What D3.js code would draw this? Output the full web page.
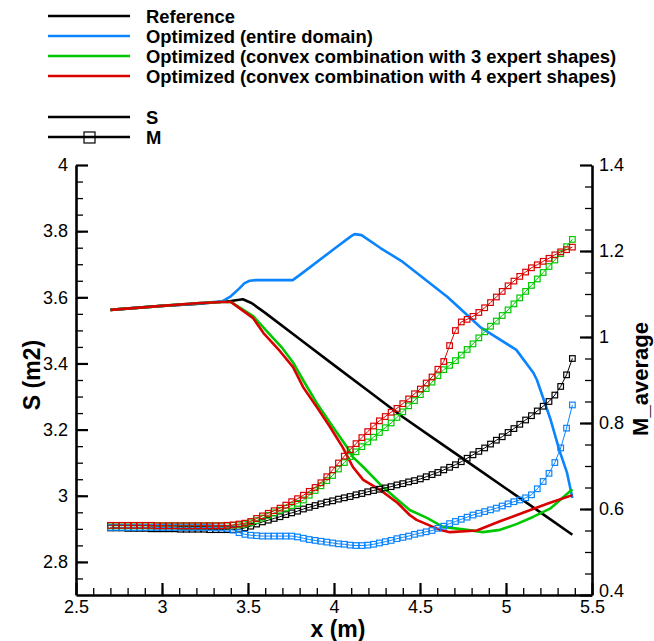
<!DOCTYPE html>
<html><head><meta charset="utf-8">
<script src="https://cdn.jsdelivr.net/npm/d3@7"></script>
<style>
html,body{margin:0;padding:0;background:#fff;}
svg{display:block;font-family:"Liberation Sans",Arial,Helvetica,sans-serif;}
</style></head>
<body><svg id="c" width="654" height="641"></svg>
<script>
// ---------- data ----------
const seriesNames = ["Reference","Optimized (entire domain)","Optimized (convex combination with 3 expert shapes)","Optimized (convex combination with 4 expert shapes)"];
const seriesColors = ["#000000","#0a84ff","#00c800","#d90000"];

// S (left axis) curves
const refSx = [2.70,3.00,3.20,3.40,3.47,3.52,3.60,3.80,4.00,4.20,4.40,4.60,4.80,5.00,5.20,5.386];
const refS  = [3.562,3.574,3.580,3.589,3.594,3.583,3.553,3.474,3.395,3.317,3.238,3.166,3.094,3.022,2.950,2.882];
const entSx = [2.70,3.00,3.20,3.35,3.40,3.45,3.48,3.51,3.55,3.76,3.80,4.00,4.10,4.12,4.16,4.27,4.40,4.66,4.85,5.06,5.16,5.18,5.26,5.31,5.355,5.386];
const entS  = [3.562,3.574,3.581,3.588,3.603,3.627,3.643,3.650,3.652,3.652,3.667,3.746,3.785,3.791,3.788,3.749,3.707,3.601,3.510,3.441,3.371,3.350,3.229,3.138,3.069,2.993];
const c3Sx  = [2.70,3.00,3.22,3.35,3.40,3.48,3.53,3.61,3.70,3.762,3.82,3.90,3.994,4.076,4.11,4.17,4.267,4.37,4.44,4.54,4.634,4.773,4.866,4.965,5.064,5.157,5.256,5.386];
const c3S   = [3.562,3.574,3.583,3.586,3.586,3.560,3.543,3.497,3.446,3.403,3.350,3.280,3.208,3.147,3.117,3.087,3.035,2.988,2.957,2.933,2.906,2.897,2.890,2.897,2.915,2.936,2.961,3.020];
const c4Sx  = [2.70,3.00,3.22,3.35,3.40,3.48,3.53,3.59,3.686,3.762,3.82,3.90,3.977,4.05,4.11,4.17,4.27,4.37,4.44,4.48,4.616,4.674,4.83,4.965,5.064,5.157,5.256,5.386];
const c4S   = [3.562,3.574,3.583,3.586,3.586,3.556,3.537,3.492,3.437,3.389,3.329,3.268,3.208,3.147,3.087,3.048,3.017,2.978,2.942,2.927,2.897,2.890,2.895,2.923,2.942,2.960,2.979,3.002];

// M (right axis) curves, sampled at the marker stations
const xM = [2.700,2.734,2.768,2.802,2.836,2.870,2.904,2.938,2.972,3.006,3.040,3.074,3.108,3.142,3.176,3.210,3.244,3.278,3.312,3.346,
            3.380,3.414,3.448,3.482,3.516,3.550,3.584,3.618,3.652,3.686,3.720,3.754,3.788,3.822,3.856,3.890,3.924,3.958,3.992,4.026,
            4.060,4.094,4.128,4.162,4.196,4.230,4.264,4.298,4.332,4.366,4.400,4.434,4.468,4.502,4.536,4.570,4.604,4.638,4.672,4.706,
            4.740,4.774,4.808,4.842,4.876,4.910,4.944,4.978,5.012,5.046,5.080,5.114,5.148,5.182,5.216,5.250,5.284,5.318,5.352,5.386];
const refM = [.556,.556,.556,.555,.555,.555,.555,.554,.554,.554,.554,.554,.553,.553,.553,.553,.553,.552,.552,.552,
              .552,.552,.553,.556,.560,.565,.570,.574,.578,.582,.587,.591,.595,.600,.604,.608,.612,.616,.619,.623,
              .626,.629,.633,.636,.640,.643,.646,.649,.652,.656,.659,.663,.666,.670,.675,.680,.685,.691,.697,.703,
              .710,.718,.726,.734,.742,.751,.760,.768,.778,.787,.797,.807,.817,.828,.839,.850,.865,.885,.912,.950];
const entM = [.557,.557,.557,.557,.557,.557,.557,.557,.557,.557,.557,.557,.557,.557,.557,.557,.557,.557,.556,.556,
              .555,.551,.545,.541,.539,.538,.537,.537,.537,.537,.537,.537,.535,.532,.529,.527,.525,.523,.521,.519,
              .518,.516,.515,.515,.516,.518,.521,.524,.527,.531,.534,.537,.541,.544,.547,.550,.555,.560,.566,.571,
              .576,.581,.586,.590,.594,.598,.602,.607,.612,.617,.621,.626,.633,.647,.664,.683,.708,.742,.788,.842];
const c3M  = [.561,.561,.561,.561,.561,.561,.561,.561,.561,.561,.561,.561,.561,.561,.561,.561,.561,.561,.561,.561,
              .561,.562,.563,.565,.568,.573,.579,.585,.591,.597,.602,.608,.613,.621,.632,.643,.654,.666,.678,.693,
              .708,.722,.733,.745,.756,.767,.778,.789,.800,.813,.826,.840,.852,.866,.880,.895,.910,.924,.934,.945,
              .958,.971,.984,.998,1.012,1.025,1.037,1.050,1.063,1.077,1.091,1.106,1.120,1.135,1.150,1.164,1.179,1.194,1.210,1.227];
const c4M  = [.562,.562,.562,.562,.562,.562,.562,.562,.561,.561,.561,.561,.561,.561,.561,.561,.561,.561,.561,.561,
              .562,.563,.565,.567,.571,.578,.584,.590,.596,.602,.609,.617,.624,.632,.641,.650,.661,.675,.691,.707,
              .723,.738,.752,.766,.780,.793,.805,.815,.825,.834,.845,.856,.868,.879,.893,.907,.925,.943,.980,1.015,
              1.035,1.041,1.048,1.057,1.068,1.080,1.093,1.106,1.119,1.130,1.141,1.151,1.161,1.168,1.176,1.183,1.191,1.198,1.203,1.209];

const xTicks = [2.5,3,3.5,4,4.5,5,5.5], xTickLabels = ["2.5","3","3.5","4","4.5","5","5.5"];
const sTicks = [2.8,3,3.2,3.4,3.6,3.8,4], sTickLabels = ["2.8","3","3.2","3.4","3.6","3.8","4"];
const mTicks = [0.4,0.6,0.8,1,1.2,1.4], mTickLabels = ["0.4","0.6","0.8","1","1.2","1.4"];

// ---------- drawing ----------
const svg = d3.select("#c");
const L=76, R=592, T=165, B=595;
const x = d3.scaleLinear().domain([2.5,5.5]).range([L,R]);
const yS = d3.scaleLinear().domain([2.7,4]).range([B,T]);
const yM = d3.scaleLinear().domain([0.4,1.4]).range([B,T]);

const sSets = [[refSx,refS],[entSx,entS],[c3Sx,c3S],[c4Sx,c4S]];
const mSets = [refM,entM,c3M,c4M];

const sLine = d3.line().x(d=>x(d[0])).y(d=>yS(d[1]));
const mLine = d3.line().x(d=>x(d[0])).y(d=>yM(d[1]));

const plot = svg.append("g");
sSets.forEach((s,i)=>{
  const pts = s[0].map((v,j)=>[v,s[1][j]]);
  plot.append("path").attr("d",sLine(pts)).attr("fill","none")
    .attr("stroke",seriesColors[i]).attr("stroke-width",2.6).attr("stroke-linejoin","round");
});
const MS = 5.6;
mSets.forEach((m,i)=>{
  const pts = xM.map((v,j)=>[v,m[j]]);
  const g = plot.append("g");
  g.append("path").attr("d",mLine(pts)).attr("fill","none")
    .attr("stroke",seriesColors[i]).attr("stroke-width",1);
  g.selectAll("rect").data(pts).join("rect")
    .attr("x",d=>x(d[0])-MS/2).attr("y",d=>yM(d[1])-MS/2)
    .attr("width",MS).attr("height",MS)
    .attr("fill","none").attr("stroke",seriesColors[i]).attr("stroke-width",1.2);
});

// axes
function styleAxis(g){
  g.select(".domain").attr("stroke","#000").attr("stroke-width",2.6);
  g.selectAll(".tick line").attr("stroke","#000").attr("stroke-width",2.2);
  g.selectAll(".tick text").attr("font-size",18).attr("fill","#000")
    .attr("font-family","'Liberation Sans',Arial,Helvetica,sans-serif");
}
function minor(g){
  g.select(".domain").remove();
  g.selectAll(".tick line").attr("stroke","#000").attr("stroke-width",1.3);
  g.selectAll(".tick text").remove();
}
const fmt = (vals,labs)=> (d)=>labs[vals.findIndex(v=>Math.abs(v-d)<1e-9)];

svg.append("g").attr("transform",`translate(0,${B})`)
  .call(d3.axisBottom(x).tickValues(d3.range(2.6,5.45,0.1)).tickSize(-7).tickSizeOuter(0)).call(minor);
svg.append("g").attr("transform",`translate(${L},0)`)
  .call(d3.axisLeft(yS).tickValues(d3.range(2.75,3.99,0.05)).tickSize(-7).tickSizeOuter(0)).call(minor);
svg.append("g").attr("transform",`translate(${R},0)`)
  .call(d3.axisRight(yM).tickValues(d3.range(0.45,1.39,0.05)).tickSize(-7).tickSizeOuter(0)).call(minor);

svg.append("g").attr("transform",`translate(0,${B})`)
  .call(d3.axisBottom(x).tickValues(xTicks).tickFormat(fmt(xTicks,xTickLabels)).tickSize(-12).tickSizeOuter(0).tickPadding(5))
  .call(styleAxis);
svg.append("g").attr("transform",`translate(${L},0)`)
  .call(d3.axisLeft(yS).tickValues(sTicks).tickFormat(fmt(sTicks,sTickLabels)).tickSize(-12).tickSizeOuter(0).tickPadding(8))
  .call(styleAxis);
const rAx = svg.append("g").attr("transform",`translate(${R},0)`)
  .call(d3.axisRight(yM).tickValues(mTicks).tickFormat(fmt(mTicks,mTickLabels)).tickSize(-12).tickSizeOuter(0).tickPadding(7))
  .call(styleAxis);
// lift the bottom right label slightly so it does not collide with "5.5"
rAx.selectAll(".tick text").filter(d=>d===0.4).attr("dy","0.1em");

// axis titles
svg.append("text").attr("x",338).attr("y",637).attr("text-anchor","middle")
  .attr("font-size",23).attr("font-weight","bold").text("x (m)");
svg.append("text").attr("transform","translate(40,375) rotate(-90)").attr("text-anchor","middle")
  .attr("font-size",23).attr("font-weight","bold").text("S (m2)");
svg.append("text").attr("transform","translate(648,379) rotate(-90)").attr("text-anchor","middle")
  .attr("font-size",22).attr("font-weight","bold").text("M_average");

// legend
const leg = svg.append("g");
const legY = [16,36,56,76];
seriesNames.forEach((n,i)=>{
  leg.append("line").attr("x1",48).attr("x2",130).attr("y1",legY[i]).attr("y2",legY[i])
    .attr("stroke",seriesColors[i]).attr("stroke-width",2.6);
  leg.append("text").attr("x",146).attr("y",legY[i]).attr("dy","0.36em")
    .attr("font-size",18.4).attr("font-weight","bold").text(n);
});
const varNames = ["S","M"], varY=[117,137];
varNames.forEach((n,i)=>{
  leg.append("line").attr("x1",48).attr("x2",130).attr("y1",varY[i]).attr("y2",varY[i])
    .attr("stroke","#000").attr("stroke-width",2.6);
  if(i===1) leg.append("rect").attr("x",84).attr("y",varY[i]-5).attr("width",11).attr("height",11)
    .attr("fill","none").attr("stroke","#000").attr("stroke-width",1.2);
  leg.append("text").attr("x",146).attr("y",varY[i]).attr("dy","0.36em")
    .attr("font-size",18.4).attr("font-weight","bold").text(n);
});
</script></body></html>
